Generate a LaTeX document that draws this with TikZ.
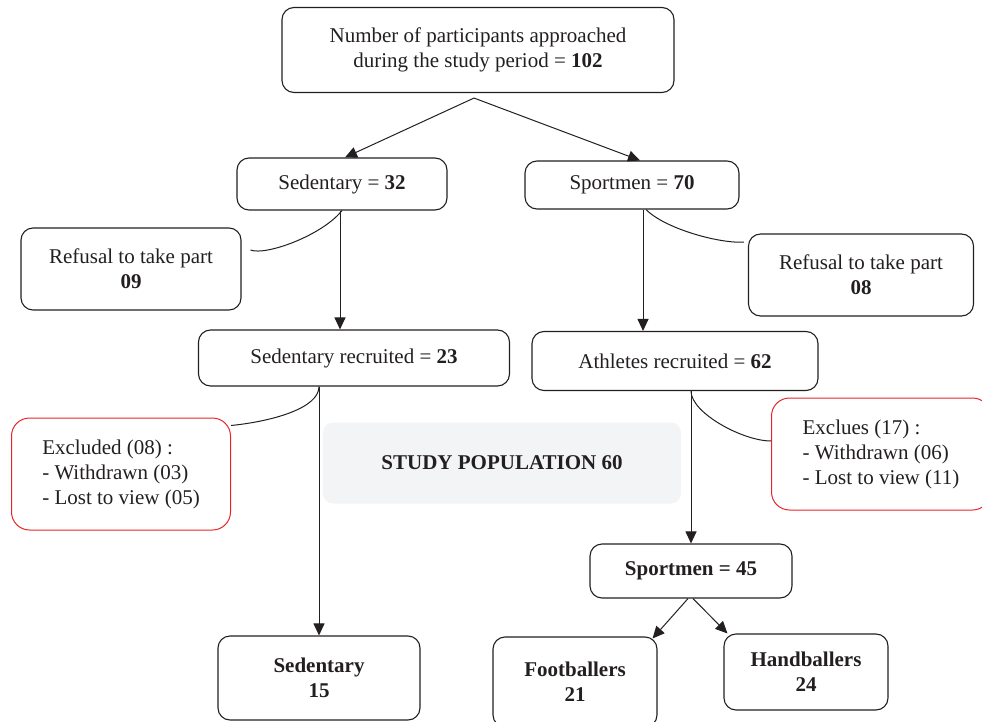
\documentclass[tikz,border=0pt]{standalone}
\usepackage{fontspec}
\setmainfont{Liberation Serif}
\usetikzlibrary{arrows.meta, positioning}
\definecolor{ink}{HTML}{231F20}
\definecolor{exred}{HTML}{E5252A}
\definecolor{popgray}{HTML}{F3F4F6}

\begin{document}
\begin{tikzpicture}[x=1pt, y=-1pt,
        font=\fontsize{21}{25}\selectfont,
        box/.style={draw=ink, line width=1.1pt, rounded corners=12pt, align=center, inner sep=0pt, text=ink},
        redbox/.style={draw=exred, line width=1pt, rounded corners=18pt, align=left, inner sep=0pt, text=ink},
        arr/.style={-{Triangle[length=12pt, width=11pt]}, line width=1pt, draw=ink},
        link/.style={line width=1pt, draw=ink}]
            \useasboundingbox (0,0) rectangle (982,722);
            \node[box, minimum width=392pt, minimum height=85pt] (top) at (478,50)
                {Number of participants approached\\during the study period = \textbf{102}};
            \node[box, minimum width=210pt, minimum height=52pt] (sed) at (342,184) {Sedentary = \textbf{32}};
            \node[box, minimum width=214pt, minimum height=48pt] (spo) at (632,185) {Sportmen = \textbf{70}};
            \node[box, minimum width=220pt, minimum height=82pt] (refl) at (131,269) {Refusal to take part\\\textbf{09}};
            \node[box, minimum width=225pt, minimum height=82pt] (refr) at (861,275) {Refusal to take part\\\textbf{08}};
            \node[box, minimum width=311pt, minimum height=56pt] (sedrec) at (354,358) {Sedentary recruited = \textbf{23}};
            \node[box, minimum width=286pt, minimum height=59pt] (athrec) at (675,361) {Athletes recruited = \textbf{62}};
            \node[redbox, minimum width=219pt, minimum height=112pt] (exl) at (121,474)
                {Excluded (08) :\\- Withdrawn (03)\\- Lost to view (05)};
            \node[redbox, minimum width=219pt, minimum height=112pt] (exr) at (881,454)
                {Exclues (17) :\\- Withdrawn (06)\\- Lost to view (11)};
            \node[fill=popgray, rounded corners=10pt, minimum width=358pt, minimum height=81pt, text=ink] (pop) at (502,463)
                {\textbf{STUDY POPULATION 60}};
            \node[box, font=\fontsize{21}{25}\selectfont\bfseries, minimum width=202pt, minimum height=84pt] (sedf) at (319,678) {Sedentary\\15};
            \node[box, font=\fontsize{21}{25}\selectfont\bfseries, minimum width=202pt, minimum height=54pt] (spof) at (691,571) {Sportmen = 45};
            \node[box, font=\fontsize{21}{25}\selectfont\bfseries, minimum width=164pt, minimum height=90pt] (foot) at (575,682) {Footballers\\21};
            \node[box, font=\fontsize{21}{25}\selectfont\bfseries, minimum width=164pt, minimum height=76pt] (hand) at (806,672) {Handballers\\24};

            \coordinate (fork) at ([xshift=-4pt, yshift=-5pt]top.south);
            \coordinate (refltip) at ([xshift=9pt, yshift=19pt]refl.east);
            \coordinate (refrtip) at ([xshift=-4pt, yshift=33pt]refr.west);
            \coordinate (exltip) at ([yshift=-8pt]exl.north east);
            \coordinate (exrtip) at ([yshift=13pt]exr.west);

            \draw[arr] (fork) -- ([xshift=3pt]sed.north);
            \draw[arr] (fork) -- ([xshift=8pt]spo.north);
            \draw[arr] ([xshift=-2pt]sed.south) -- ([xshift=-2pt]sed.south |- sedrec.north);
            \draw[arr] ([xshift=11pt]spo.south) -- ([xshift=11pt]spo.south |- athrec.north);
            \draw[arr] (sedf.north |- sedrec.south) -- (sedf.north);
            \draw[arr] (spof.north |- athrec.south) -- (spof.north);
            \draw[arr] ([xshift=-3pt]spof.south) -- ([xshift=-5pt, yshift=-2pt]foot.north east);
            \draw[arr] ([xshift=2pt]spof.south) -- ([xshift=4pt]hand.north west);

            \draw[link] (sed.south) .. controls +(-20,25) and +(15,6) .. (refltip);
            \draw[link] ([xshift=14pt]spo.south) .. controls +(20,20) and +(-22,2) .. (refrtip);
            \draw[link] (sedf.north |- sedrec.south) .. controls +(0,22) and +(40,-4) .. (exltip);
            \draw[link] (spof.north |- athrec.south) .. controls +(0,22) and +(-28,0) .. (exrtip);
        \end{tikzpicture}
\end{document}
